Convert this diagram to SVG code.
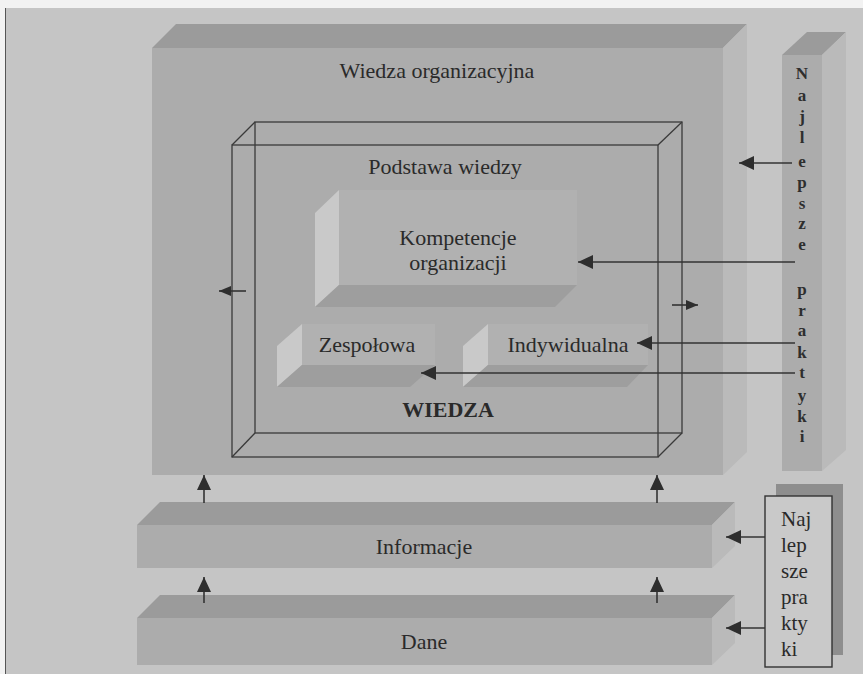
<svg xmlns="http://www.w3.org/2000/svg" width="863" height="674" viewBox="0 0 863 674">
  <style>
    .lbl { font-family: "Liberation Serif", "Times New Roman", serif; font-size: 22px; fill: #2a2a2a; text-anchor: middle; }
    .bold { font-weight: bold; }
    .vert { font-family: "Liberation Serif", "Times New Roman", serif; font-size: 17px; font-weight: bold; fill: #2e2e2e; text-anchor: middle; }
    .box { font-family: "Liberation Serif", "Times New Roman", serif; font-size: 21px; fill: #2a2a2a; }
    .front { fill: #acacac; }
    .top { fill: #9b9b9b; }
    .side { fill: #bababa; }
    .shelf { fill: #9e9e9e; }
    .panel { fill: #c9c9c9; }
    .back { fill: #b1b1b1; }
    .wire { fill: none; stroke: #3a3a3a; stroke-width: 1.3; }
    .conn { fill: none; stroke: #333; stroke-width: 1.6; }
  </style>
  <defs>
    <marker id="head" viewBox="0 0 15 14" refX="15" refY="7" markerWidth="15" markerHeight="14" markerUnits="userSpaceOnUse" orient="auto">
      <path d="M0,0 L15,7 L0,14 z" fill="#2e2e2e"/>
    </marker>
    <marker id="headSmall" viewBox="0 0 12 10" refX="12" refY="5" markerWidth="12" markerHeight="10" markerUnits="userSpaceOnUse" orient="auto">
      <path d="M0,0 L12,5 L0,10 z" fill="#2e2e2e"/>
    </marker>
  </defs>

  <!-- page -->
  <rect x="0" y="0" width="863" height="674" fill="#f2f2f2"/>
  <rect x="5" y="8" width="858" height="666" fill="#c5c5c5"/>
  <line x1="5.5" y1="8" x2="5.5" y2="674" stroke="#555" stroke-width="1"/>

  <!-- organisational knowledge block -->
  <g id="wiedza-organizacyjna">
    <polygon class="top" points="152,48 176,24 747,24 723,48"/>
    <polygon class="side" points="723,48 747,24 747,452 723,475"/>
    <rect class="front" x="152" y="48" width="571" height="427"/>
    <text class="lbl" x="437" y="78">Wiedza organizacyjna</text>
  </g>

  <!-- knowledge base wireframe -->
  <g id="podstawa-wiedzy">
    <rect class="wire" x="255" y="122" width="427" height="311"/>
    <rect class="wire" x="232" y="145" width="426" height="312"/>
    <line class="wire" x1="232" y1="145" x2="255" y2="122"/>
    <line class="wire" x1="658" y1="145" x2="682" y2="122"/>
    <line class="wire" x1="232" y1="457" x2="255" y2="433"/>
    <line class="wire" x1="658" y1="457" x2="682" y2="433"/>
    <text class="lbl" x="445" y="174">Podstawa wiedzy</text>
    <text class="lbl bold" x="448" y="417">WIEDZA</text>
  </g>

  <g id="kompetencje">
    <rect class="back" x="339" y="190" width="238" height="95"/>
    <polygon class="panel" points="315,213 339,190 339,285 315,307"/>
    <polygon class="shelf" points="339,285 577,285 555,307 315,307"/>
    <text class="lbl" x="458" y="245">Kompetencje</text>
    <text class="lbl" x="458" y="270">organizacji</text>
  </g>

  <g id="zespolowa">
    <rect class="back" x="302" y="324" width="133" height="41"/>
    <polygon class="panel" points="277,346 302,324 302,365 277,387"/>
    <polygon class="shelf" points="302,365 435,365 410,387 277,387"/>
    <text class="lbl" x="367" y="352">Zespołowa</text>
  </g>

  <g id="indywidualna">
    <rect class="back" x="488" y="324" width="160" height="41"/>
    <polygon class="panel" points="463,346 488,324 488,365 463,387"/>
    <polygon class="shelf" points="488,365 648,365 627,387 463,387"/>
    <text class="lbl" x="568" y="352">Indywidualna</text>
  </g>

  <!-- information layer -->
  <g id="informacje">
    <polygon class="top" points="137,525 160,502 735,502 712,525"/>
    <polygon class="side" points="712,525 735,502 735,546 712,568"/>
    <rect class="front" x="137" y="525" width="575" height="43"/>
    <text class="lbl" x="424" y="554">Informacje</text>
  </g>

  <!-- data layer -->
  <g id="dane">
    <polygon class="top" points="137,618 160,595 735,595 712,618"/>
    <polygon class="side" points="712,618 735,595 735,643 712,665"/>
    <rect class="front" x="137" y="618" width="575" height="47"/>
    <text class="lbl" x="424" y="649">Dane</text>
  </g>

  <!-- best practices column -->
  <g id="najlepsze-praktyki-kolumna">
    <polygon class="top" points="782,55 807,32 846,32 822,55"/>
    <polygon class="side" points="822,55 846,32 846,450 822,471"/>
    <rect class="front" x="782" y="55" width="40" height="416"/>
    <text class="vert" x="802" y="79">N</text>
    <text class="vert" x="802" y="101">a</text>
    <text class="vert" x="802" y="122">j</text>
    <text class="vert" x="802" y="143">l</text>
    <text class="vert" x="802" y="167">e</text>
    <text class="vert" x="802" y="188">p</text>
    <text class="vert" x="802" y="209">s</text>
    <text class="vert" x="802" y="229">z</text>
    <text class="vert" x="802" y="250">e</text>
    <text class="vert" x="802" y="295">p</text>
    <text class="vert" x="802" y="316">r</text>
    <text class="vert" x="802" y="336">a</text>
    <text class="vert" x="802" y="358">k</text>
    <text class="vert" x="802" y="378">t</text>
    <text class="vert" x="802" y="401">y</text>
    <text class="vert" x="802" y="422">k</text>
    <text class="vert" x="802" y="442">i</text>
  </g>

  <!-- best practices box -->
  <g id="najlepsze-praktyki-ramka">
    <rect x="776" y="484" width="67" height="171" fill="#8e8e8e"/>
    <rect x="765" y="496" width="67" height="171" fill="#c9c9c9" stroke="#333" stroke-width="1.4"/>
    <text class="box" x="781" y="526">Naj</text>
    <text class="box" x="781" y="552">lep</text>
    <text class="box" x="781" y="578">sze</text>
    <text class="box" x="781" y="604">pra</text>
    <text class="box" x="781" y="630">kty</text>
    <text class="box" x="781" y="656">ki</text>
  </g>

  <!-- connectors -->
  <g id="connectors">
    <line class="conn" x1="792" y1="163" x2="739" y2="163" marker-end="url(#head)"/>
    <line class="conn" x1="795" y1="262" x2="578" y2="262" marker-end="url(#head)"/>
    <line class="conn" x1="795" y1="343" x2="637" y2="343" marker-end="url(#head)"/>
    <line class="conn" x1="795" y1="373" x2="421" y2="373" marker-end="url(#head)"/>
    <line class="conn" x1="246" y1="291" x2="219" y2="291" marker-end="url(#headSmall)"/>
    <line class="conn" x1="672" y1="305" x2="698" y2="305" marker-end="url(#headSmall)"/>
    <line class="conn" x1="204" y1="503" x2="204" y2="475" marker-end="url(#head)"/>
    <line class="conn" x1="657" y1="503" x2="657" y2="475" marker-end="url(#head)"/>
    <line class="conn" x1="204" y1="603" x2="204" y2="577" marker-end="url(#head)"/>
    <line class="conn" x1="657" y1="603" x2="657" y2="577" marker-end="url(#head)"/>
    <line class="conn" x1="765" y1="537" x2="726" y2="537" marker-end="url(#head)"/>
    <line class="conn" x1="765" y1="628" x2="726" y2="628" marker-end="url(#head)"/>
  </g>
</svg>
